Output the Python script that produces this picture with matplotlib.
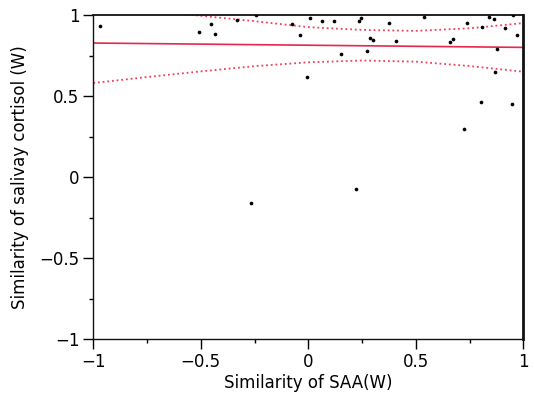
import matplotlib

matplotlib.use("Agg")

import matplotlib.pyplot as plt
from matplotlib.ticker import MultipleLocator

# scatter points: similarity of SAA(W) vs similarity of salivary cortisol (W)
saa = [-0.969, -0.510, -0.451, -0.433, -0.331, -0.241, -0.074, -0.040, -0.005, 0.010,
       0.065, 0.119, 0.153, 0.235, 0.247, 0.275, 0.287, 0.303, 0.377, 0.407,
       0.540, 0.657, 0.675, 0.722, 0.740, 0.803, 0.807, 0.841, 0.862, 0.869,
       0.876, 0.913, 0.949, 0.951, 0.969, -0.266, 0.220]
cortisol = [0.932, 0.893, 0.944, 0.883, 0.968, 1.0, 0.946, 0.877, 0.617, 0.981,
            0.965, 0.963, 0.759, 0.960, 0.980, 0.778, 0.858, 0.844, 0.951, 0.837,
            0.985, 0.836, 0.854, 0.297, 0.948, 0.460, 0.923, 0.986, 0.975, 0.650,
            0.792, 0.920, 0.448, 1.0, 0.875, -0.160, -0.072]

# fitted line and confidence band
fit_x = [-1.0, 1.0]
fit_y = [0.827, 0.800]
band_x = [-1.0, -0.75, -0.5, -0.25, 0.0, 0.25, 0.5, 0.75, 1.0]
band_low = [0.580, 0.617, 0.652, 0.684, 0.708, 0.719, 0.712, 0.685, 0.650]
band_high = [1.070, 1.030, 0.995, 0.962, 0.925, 0.908, 0.902, 0.918, 0.950]

red = "#e5284c"

fig = plt.figure(figsize=(5.34, 3.99), dpi=100)
ax = fig.add_axes([93.3 / 534, 60 / 399, 430 / 534, 324 / 399])

ax.plot(fit_x, fit_y, color=red, lw=1.2, zorder=2)
ax.plot(band_x, band_low, color="#f0405e", lw=1.3, ls=(0, (1, 1.6)), zorder=2)
ax.plot(band_x, band_high, color="#f0405e", lw=1.3, ls=(0, (1, 1.6)), zorder=2)
ax.scatter(saa, cortisol, s=7, color="black", lw=0, zorder=3)

ax.set_xlim(-1, 1)
ax.set_ylim(-1, 1)
ax.xaxis.set_major_locator(MultipleLocator(0.5))
ax.yaxis.set_major_locator(MultipleLocator(0.5))
ax.xaxis.set_minor_locator(MultipleLocator(0.25))
ax.yaxis.set_minor_locator(MultipleLocator(0.25))
ax.xaxis.set_major_formatter(lambda v, p: "0" if abs(v) < 1e-9 else f"{v:g}".replace("-", "\u2212"))
ax.yaxis.set_major_formatter(lambda v, p: "0" if abs(v) < 1e-9 else f"{v:g}".replace("-", "\u2212"))

ax.tick_params(which="major", direction="out", length=7, width=1.0, labelsize=12, pad=3)
ax.tick_params(which="minor", direction="out", length=3, width=1.0)

for side in ["left", "bottom"]:
    ax.spines[side].set_linewidth(1.0)
ax.spines["top"].set_linewidth(1.3)
ax.spines["right"].set_linewidth(2.0)
for s in ax.spines.values():
    s.set_color("#111111")

ax.set_xlabel("Similarity of SAA(W)", fontsize=12, va="center")
ax.xaxis.set_label_coords(0.5, -(383 - 339) / 324)
ax.set_ylabel("Similarity of salivay cortisol (W)", fontsize=12, va="center")
ax.yaxis.set_label_coords((20 - 93.3) / 430, 0.5)

fig.savefig("out.png", dpi=100)
plt.close("all")
